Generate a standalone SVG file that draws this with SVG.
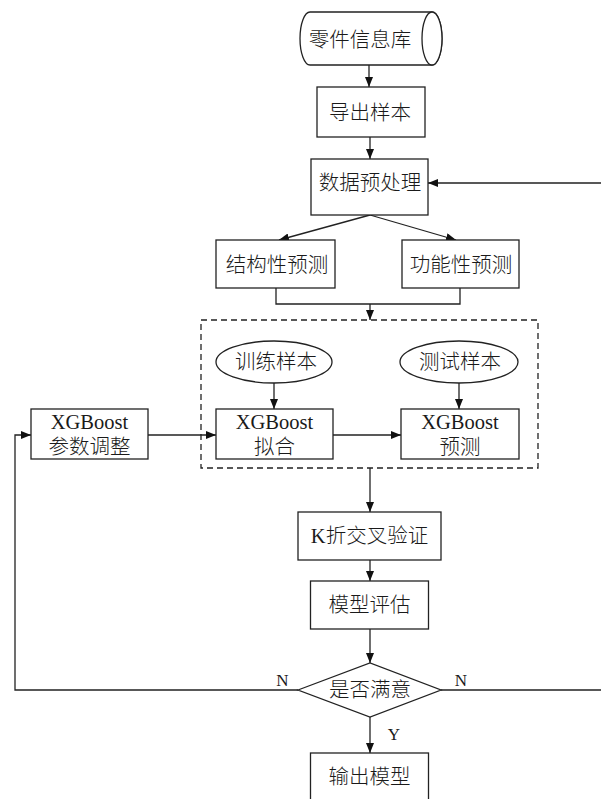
<svg xmlns="http://www.w3.org/2000/svg" width="601" height="799" viewBox="0 0 601 799">
<style>
.b{fill:#fff;stroke:#222;stroke-width:1.3}
.c{fill:none;stroke:#222;stroke-width:1.3}
.t{font-family:"Liberation Serif","Noto Sans CJK SC",serif;font-size:20.5px;font-weight:300;fill:#1a1a1a;text-anchor:middle}
.l{font-family:"Liberation Serif",serif;font-size:17px;fill:#1a1a1a;text-anchor:middle}
</style>
<defs>
<marker id="a" viewBox="0 0 10 8" refX="10" refY="4" markerWidth="10" markerHeight="8" markerUnits="userSpaceOnUse" orient="auto">
<path d="M0,0 L10,4 L0,8 Z" fill="#111"/>
</marker>
</defs>
<rect width="601" height="799" fill="#fff"/>
<g id="connectors" class="c">
<path d="M369,65 V87" marker-end="url(#a)"/>
<path d="M370,137 V159" marker-end="url(#a)"/>
<path d="M370,215 L279,240" marker-end="url(#a)"/>
<path d="M370,215 L456,240" marker-end="url(#a)"/>
<path d="M276,288 V304 H460 V288"/>
<path d="M370,304 V320" marker-end="url(#a)"/>
<path d="M274,383 V409" marker-end="url(#a)"/>
<path d="M459,383 V409" marker-end="url(#a)"/>
<path d="M148,435 H216" marker-end="url(#a)"/>
<path d="M333,435 H401" marker-end="url(#a)"/>
<path d="M370,468 V512" marker-end="url(#a)"/>
<path d="M370,560 V581" marker-end="url(#a)"/>
<path d="M370,629 V663" marker-end="url(#a)"/>
<path d="M298,690 H15 V435 H31" marker-end="url(#a)"/>
<path d="M441,690 H606 V183 H428" marker-end="url(#a)"/>
<path d="M370,717 V753" marker-end="url(#a)"/>
<rect x="201" y="320" width="337" height="148" stroke-dasharray="6,4"/>
</g>
<g id="db">
<path class="b" d="M310,12 H432 A10,26.5 0 0 1 432,65 H310 A10,26.5 0 0 1 310,12 Z"/>
<ellipse class="b" cx="432" cy="38.5" rx="10" ry="26.5"/>
<text class="t" x="360" y="47">零件信息库</text>
</g>
<g id="export"><rect class="b" x="317" y="87" width="108" height="50"/><text class="t" x="370" y="120">导出样本</text></g>
<g id="preprocess"><rect class="b" x="311" y="159" width="117" height="56"/><text class="t" x="370" y="190">数据预处理</text></g>
<g id="struct"><rect class="b" x="216" y="240" width="119" height="48"/><text class="t" x="277" y="272">结构性预测</text></g>
<g id="func"><rect class="b" x="402" y="240" width="117" height="48"/><text class="t" x="461" y="272">功能性预测</text></g>
<g id="train"><ellipse class="b" cx="274" cy="362" rx="58" ry="21"/><text class="t" x="276" y="369">训练样本</text></g>
<g id="test"><ellipse class="b" cx="459" cy="362" rx="59" ry="21"/><text class="t" x="460" y="369">测试样本</text></g>
<g id="tune"><rect class="b" x="31" y="409" width="117" height="50"/><text class="t" x="89.5" y="428.5">XGBoost</text><text class="t" x="89.5" y="454">参数调整</text></g>
<g id="fit"><rect class="b" x="216" y="409" width="117" height="50"/><text class="t" x="274.5" y="428.5">XGBoost</text><text class="t" x="274.5" y="454">拟合</text></g>
<g id="predict"><rect class="b" x="401" y="409" width="118" height="50"/><text class="t" x="460" y="428.5">XGBoost</text><text class="t" x="460" y="454">预测</text></g>
<g id="kfold"><rect class="b" x="298" y="512" width="143" height="48"/><text class="t" x="369.5" y="543">K折交叉验证</text></g>
<g id="eval"><rect class="b" x="310.5" y="581" width="118" height="48"/><text class="t" x="369.5" y="612">模型评估</text></g>
<g id="decide"><path class="b" d="M298,690 L370,663 L441,690 L370,717 Z"/><text class="t" x="370" y="697">是否满意</text></g>
<g id="output"><rect class="b" x="310.5" y="753" width="118" height="48"/><text class="t" x="369.5" y="784">输出模型</text></g>
<g id="labels">
<text class="l" x="282.5" y="685.5">N</text>
<text class="l" x="461" y="685.5">N</text>
<text class="l" x="394" y="739.5">Y</text>
</g>
</svg>
